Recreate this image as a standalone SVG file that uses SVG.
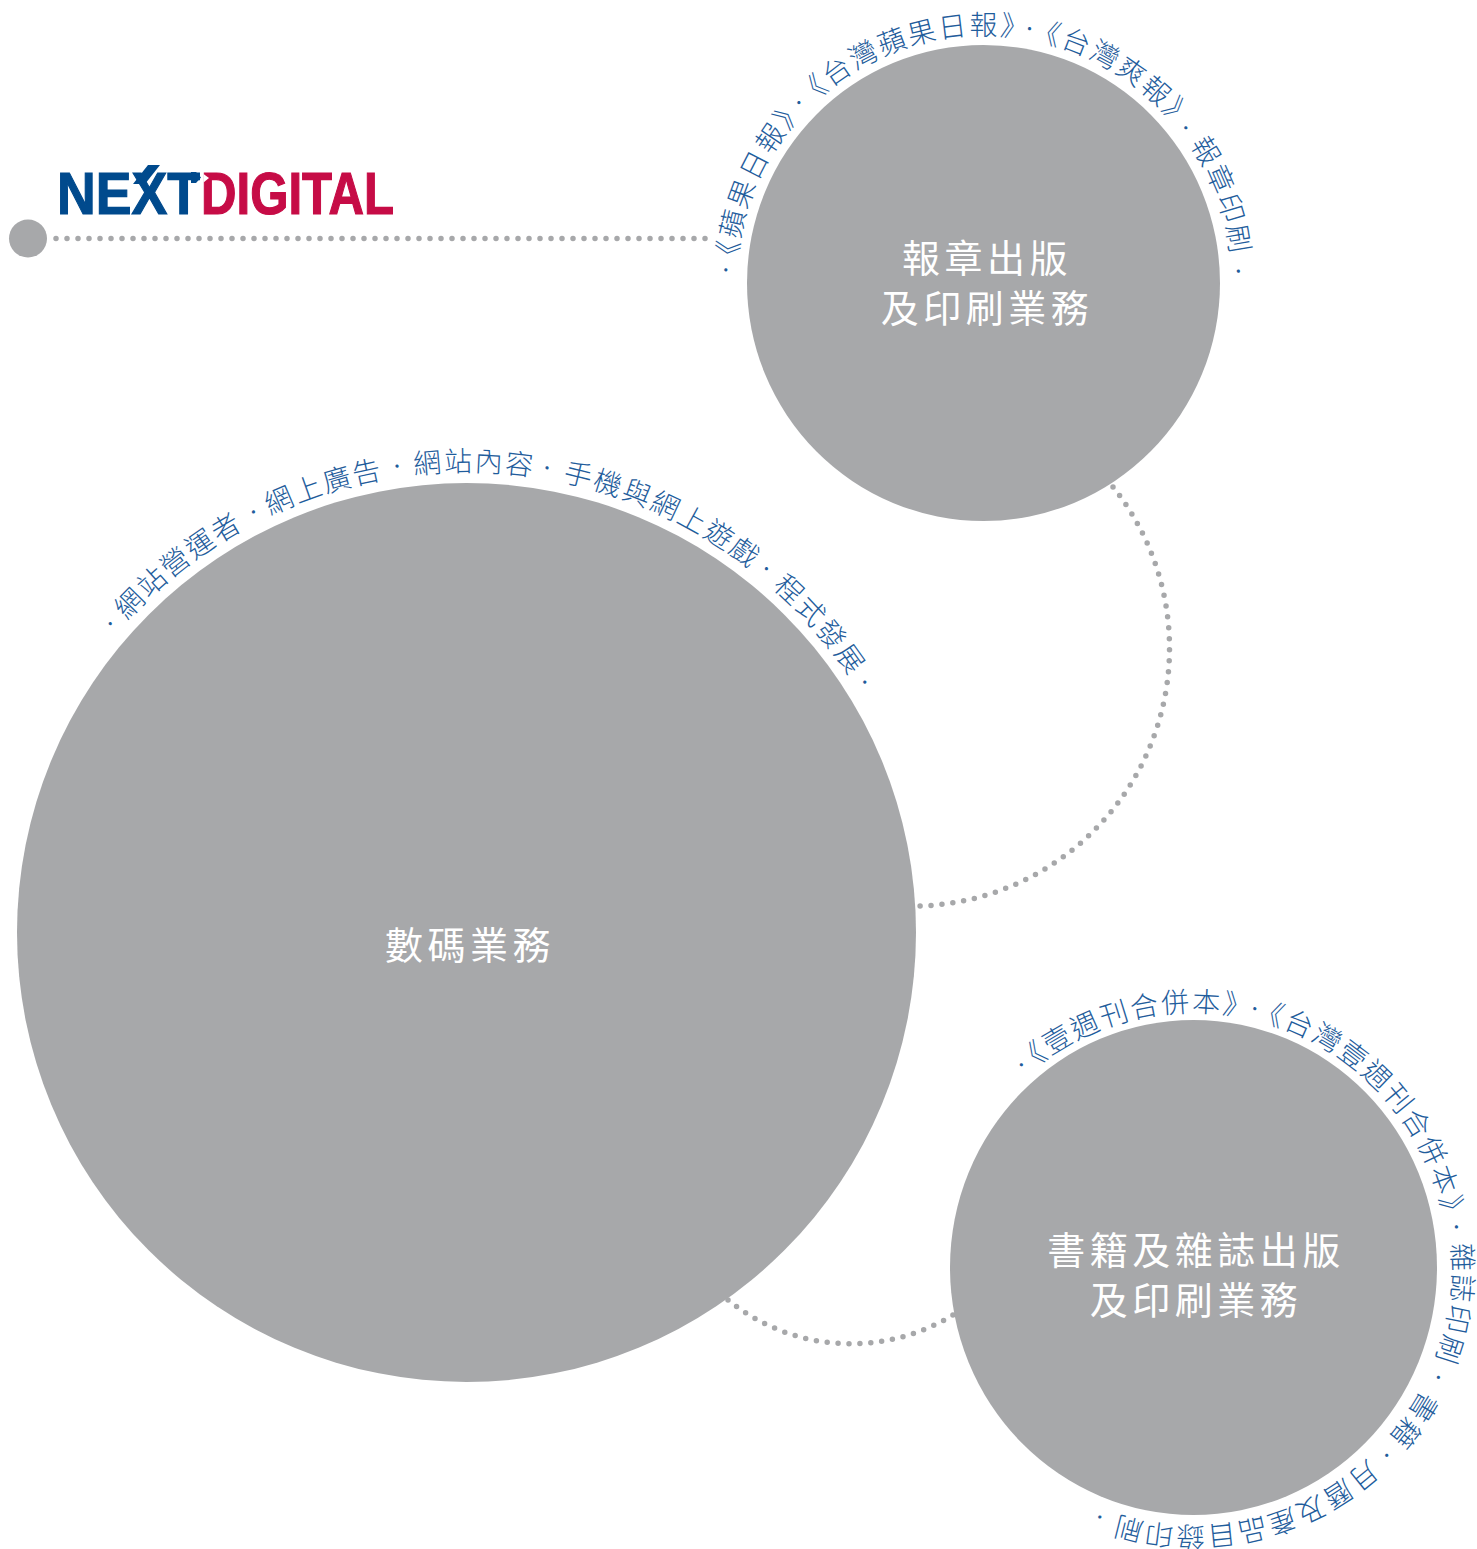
<svg xmlns="http://www.w3.org/2000/svg" width="1477" height="1549" viewBox="0 0 1477 1549">
<style>
.disc{fill:#a7a8aa}
.lbl{font-family:"Noto Sans CJK TC","Noto Sans",sans-serif;font-size:38px;fill:#fff;letter-spacing:4.5px;text-anchor:middle;font-weight:400}
.arc{font-family:"Noto Sans CJK TC","Noto Sans",sans-serif;font-size:28px;fill:#1f5d9c;font-weight:300;letter-spacing:2px}
.d{font-size:17px}
.dotline{fill:none;stroke:#a7a8aa;stroke-width:5.5;stroke-linecap:round;stroke-dasharray:0 11}
.logo{font-family:"Liberation Sans",Arial,sans-serif;font-weight:700;font-size:59px;stroke-width:1.2}
</style>
<defs>
<path id="p1" d="M984 35A248 248 0 1 1 984 531A248 248 0 1 1 984 35"/>
<path id="p2" d="M466.5 471.5A461 461 0 1 1 466.5 1393.5A461 461 0 1 1 466.5 471.5"/>
<path id="p3" d="M1193.5 1012A255.5 255.5 0 1 1 1193.5 1523A255.5 255.5 0 1 1 1193.5 1012"/>
<path id="p3b" d="M1193.5 1008.5A259 259 0 1 1 1193.5 1526.5A259 259 0 1 1 1193.5 1008.5"/>
</defs>
<g id="connectors">
<path class="dotline" d="M56 238.5H705.5"/>
<path class="dotline" pathLength="572.1" d="M1113 487A258 258 0 0 1 920 906"/>
<path class="dotline" pathLength="242.1" d="M728 1300A195 195 0 0 0 953 1315"/>
</g>
<g id="logo">
<text class="logo" x="57" y="214" fill="#004a8d" stroke="#004a8d" textLength="143" lengthAdjust="spacingAndGlyphs">NEXT</text>
<polygon points="148,165 160,165 145,184 133,184" fill="#004a8d"/>
<polygon points="191,172 196,172 201,177.5 196,183 191,183" fill="#004a8d"/>
<text class="logo" x="201" y="214" fill="#c60c46" stroke="#c60c46" textLength="193" lengthAdjust="spacingAndGlyphs">DIGITAL</text>
<polygon points="203.5,174 209,178 203.5,182.5" fill="#fff"/>
</g>
<circle id="start-dot" class="disc" cx="28" cy="238.5" r="19"/>
<g id="node-print">
<ellipse class="disc" cx="983.5" cy="283" rx="236.5" ry="238"/>
<text class="lbl" x="987" y="272">報章出版</text>
<text class="lbl" x="987" y="322">及印刷業務</text>
<g class="arc">
<text class="d" transform="rotate(-90.3 984 283)"><textPath href="#p1"><tspan dx="5.5" dy="-4">‧</tspan></textPath></text>
<text transform="rotate(-86.9 984 283)"><textPath href="#p1">《蘋果日報》</textPath></text>
<text class="d" transform="rotate(-49 984 283)"><textPath href="#p1"><tspan dx="5.5" dy="-4">‧</tspan></textPath></text>
<text transform="rotate(-45 984 283)"><textPath href="#p1">《台灣蘋果日報》</textPath></text>
<text class="d" transform="rotate(6.9 984 283)"><textPath href="#p1"><tspan dx="5.5" dy="-4">‧</tspan></textPath></text>
<text transform="rotate(10.8 984 283)"><textPath href="#p1">《台灣爽報》</textPath></text>
<text class="d" transform="rotate(49.2 984 283)"><textPath href="#p1"><tspan dx="5.5" dy="0">‧</tspan></textPath></text>
<text transform="rotate(56 984 283)"><textPath href="#p1">報章印刷</textPath></text>
<text class="d" transform="rotate(84.1 984 283)"><textPath href="#p1"><tspan dx="5.5" dy="0">‧</tspan></textPath></text>
</g>
</g>
<g id="node-digital">
<circle class="disc" cx="466.5" cy="932.5" r="449.5"/>
<text class="lbl" x="470" y="959">數碼業務</text>
<g class="arc">
<text class="d" transform="rotate(-50.8 466.5 932.5)"><textPath href="#p2"><tspan dx="5.5" dy="-4">‧</tspan></textPath></text>
<text transform="rotate(-47.4 466.5 932.5)"><textPath href="#p2">網站營運者</textPath></text>
<text class="d" transform="rotate(-28.6 466.5 932.5)"><textPath href="#p2"><tspan dx="5.5" dy="-4">‧</tspan></textPath></text>
<text transform="rotate(-25.2 466.5 932.5)"><textPath href="#p2">網上廣告</textPath></text>
<text class="d" transform="rotate(-10.2 466.5 932.5)"><textPath href="#p2"><tspan dx="5.5" dy="-4">‧</tspan></textPath></text>
<text transform="rotate(-6.5 466.5 932.5)"><textPath href="#p2">網站內容</textPath></text>
<text class="d" transform="rotate(8.1 466.5 932.5)"><textPath href="#p2"><tspan dx="5.5" dy="-4">‧</tspan></textPath></text>
<text transform="rotate(12 466.5 932.5)"><textPath href="#p2">手機與網上遊戲</textPath></text>
<text class="d" transform="rotate(37.8 466.5 932.5)"><textPath href="#p2"><tspan dx="5.5" dy="-4">‧</tspan></textPath></text>
<text transform="rotate(41.5 466.5 932.5)"><textPath href="#p2">程式發展</textPath></text>
<text class="d" transform="rotate(56.1 466.5 932.5)"><textPath href="#p2"><tspan dx="5.5" dy="-3">‧</tspan></textPath></text>
</g>
</g>
<g id="node-books">
<ellipse class="disc" cx="1193.5" cy="1267.5" rx="243.5" ry="247.5"/>
<text class="lbl" x="1196" y="1264">書籍及雜誌出版</text>
<text class="lbl" x="1196" y="1314">及印刷業務</text>
<g class="arc">
<text class="d" transform="rotate(-43.5 1193.5 1267.5)"><textPath href="#p3"><tspan dx="5.5" dy="-4">‧</tspan></textPath></text>
<text transform="rotate(-40.8 1193.5 1267.5)"><textPath href="#p3">《壹週刊合併本》</textPath></text>
<text class="d" transform="rotate(10.2 1193.5 1267.5)"><textPath href="#p3"><tspan dx="5.5" dy="-4">‧</tspan></textPath></text>
<text transform="rotate(13.6 1193.5 1267.5)"><textPath href="#p3">《台灣壹週刊合併本》</textPath></text>
<text class="d" transform="rotate(78.1 1193.5 1267.5)"><textPath href="#p3"><tspan dx="5.5" dy="-4">‧</tspan></textPath></text>
<text transform="rotate(84.7 1193.5 1267.5)"><textPath href="#p3b">雜誌印刷</textPath></text>
<text class="d" transform="rotate(111.1 1193.5 1267.5)"><textPath href="#p3b"><tspan dx="5.5" dy="-3">‧</tspan></textPath></text>
<text transform="rotate(118.2 1193.5 1267.5)"><textPath href="#p3b">書籍</textPath></text>
<text class="d" transform="rotate(131.1 1193.5 1267.5)"><textPath href="#p3b"><tspan dx="5.5" dy="-4">‧</tspan></textPath></text>
<text transform="rotate(137.7 1193.5 1267.5)"><textPath href="#p3b">月曆及產品目錄印刷</textPath></text>
<text class="d" transform="rotate(197.5 1193.5 1267.5)"><textPath href="#p3b"><tspan dx="5.5" dy="-1">‧</tspan></textPath></text>
</g>
</g>
</svg>
